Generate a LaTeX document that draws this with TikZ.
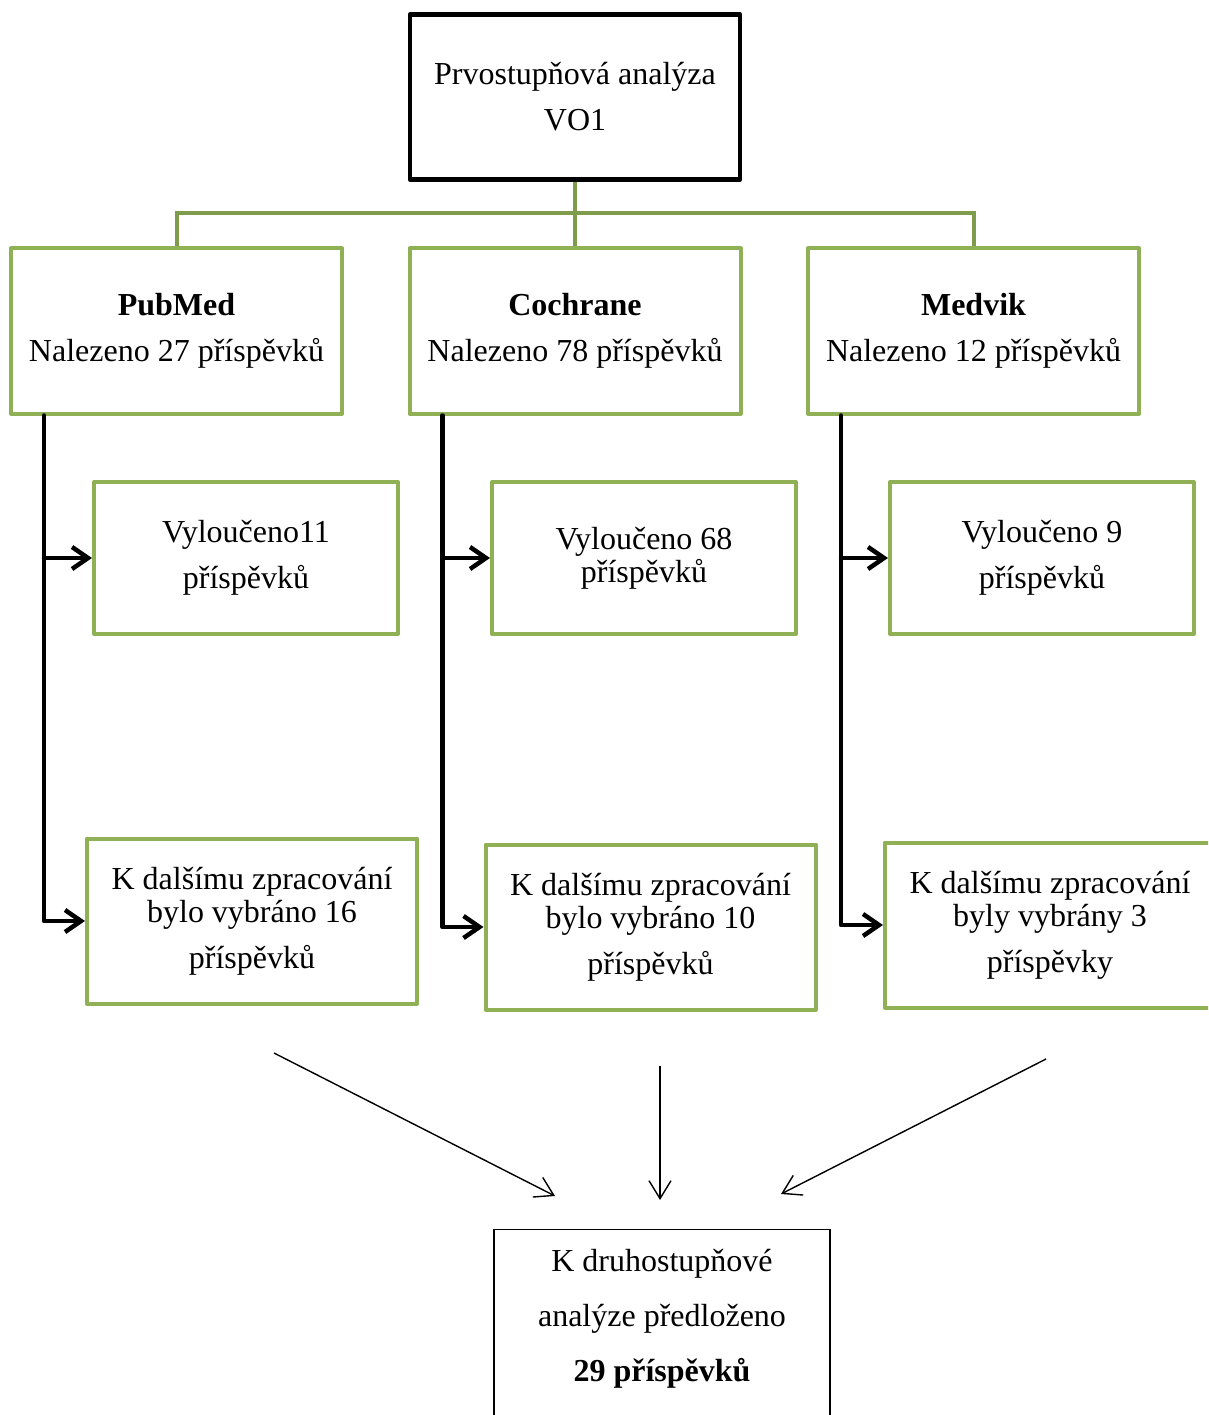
\documentclass[tikz,border=0pt]{standalone}
\usepackage{fontspec}
\setmainfont{Liberation Serif}
\usetikzlibrary{arrows.meta}
\definecolor{boxgreen}{HTML}{8FB054}
\definecolor{linegreen}{HTML}{7E9C4B}
\begin{document}
\begin{tikzpicture}[
x=1pt, y=-1pt,
every node/.style={align=center, font=\fontsize{32}{46}\selectfont, inner sep=0pt},
topbox/.style={draw=black, line width=4.5pt, line join=round, minimum width=330, minimum height=165},
srcbox/.style={draw=boxgreen, line width=4pt, line join=round, minimum width=331, minimum height=165},
excbox/.style={draw=boxgreen, line width=4pt, line join=round, minimum width=304, minimum height=152},
selbox/.style={draw=boxgreen, line width=4pt, line join=round, minimum width=330, minimum height=165},
finalbox/.style={draw=black, line width=1.2pt, minimum width=336, minimum height=240, anchor=north},
greenline/.style={draw=linegreen, line width=4pt},
thickarrow/.style={line width=4.5pt, line cap=round, line join=round, -{Straight Barb[length=16pt,width=22pt]}},
thinarrow/.style={line width=1.4pt, -{Straight Barb[length=18pt,width=22pt]}}
]
\useasboundingbox (0,0) rectangle (1208,1415);
\clip (0,0) rectangle (1208,1415);

\node[topbox] (vo) at (575,97) {Prvostupňová analýza\\VO1};

\node[srcbox] (pubmed) at (176.5,331) {\textbf{PubMed}\\Nalezeno 27 příspěvků};
\node[srcbox] (cochrane) at (575,331) {\textbf{Cochrane}\\Nalezeno 78 příspěvků};
\node[srcbox] (medvik) at (973.5,331) {\textbf{Medvik}\\Nalezeno 12 příspěvků};

\node[excbox] (exc1) at (246,558) {Vyloučeno11\\příspěvků};
\node[excbox] (exc2) at (644,558) {Vyloučeno 68\\[-13pt]příspěvků};
\node[excbox] (exc3) at (1042,558) {Vyloučeno 9\\příspěvků};

\node[selbox] (sel1) at (252,921) {K dalšímu zpracování\\[-13pt]bylo vybráno 16\\příspěvků};
\node[selbox] (sel2) at (650.5,927) {K dalšímu zpracování\\[-13pt]bylo vybráno 10\\příspěvků};
\node[selbox] (sel3) at (1050,925) {K dalšímu zpracování\\[-13pt]byly vybrány 3\\příspěvky};

\node[finalbox] (final) at (662,1229) {K druhostupňové\\[9pt]analýze předloženo\\[9pt]\textbf{29 příspěvků}\\[9pt]\strut};

% green tree lines
\draw[greenline] (vo.south) -- (cochrane.north);
\draw[greenline] (pubmed.north) |- (575,213) -| (medvik.north);

% black arrows
\foreach \src/\exc/\sel in {pubmed/exc1/sel1, cochrane/exc2/sel2, medvik/exc3/sel3} {
  \draw[thickarrow] ([xshift=35]\src.south west) |- (\sel.west);
  \draw[thickarrow] ([xshift=35]\src.south west |- \exc.west) -- (\exc.west);
}

% thin arrows to the final box
\coordinate (l1) at (274,1053);
\coordinate (l2) at (555,1196);
\coordinate (m1) at (660,1066);
\coordinate (m2) at (660,1200);
\coordinate (r1) at (1046,1059);
\coordinate (r2) at (781,1194);
\draw[thinarrow] (l1) -- (l2);
\draw[thinarrow] (m1) -- (m2);
\draw[thinarrow] (r1) -- (r2);
\end{tikzpicture}
\end{document}
